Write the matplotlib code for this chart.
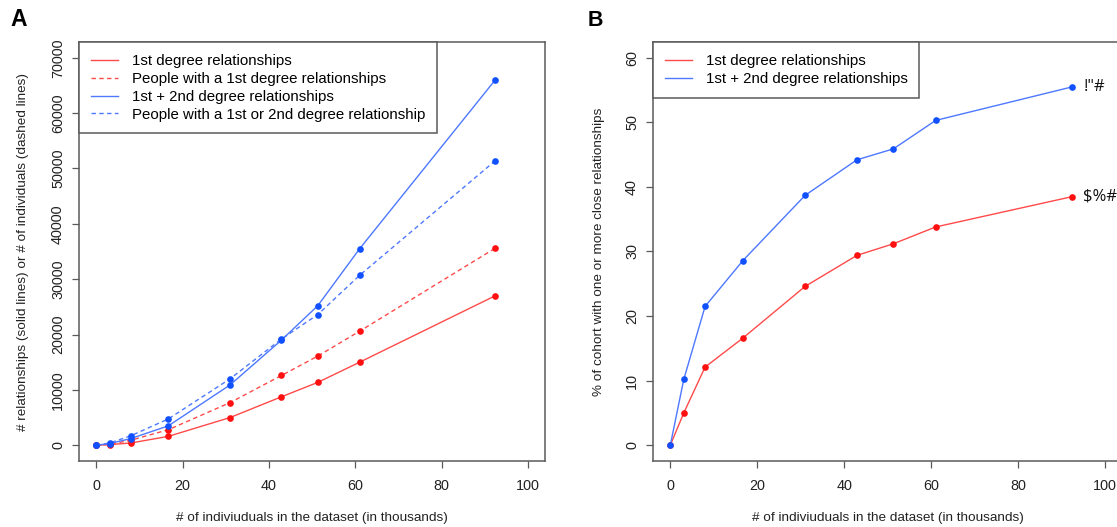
import matplotlib

matplotlib.use("Agg")

import matplotlib.pyplot as plt

plt.rcParams["font.family"] = ["Liberation Sans", "DejaVu Sans"]

# cohort size in thousands, same sampling points in both panels
n_thousands = [0.0, 3.1, 8.0, 16.7, 31.0, 42.9, 51.3, 61.0, 92.4]

# panel A: counts
rel_1st = [0, 100, 400, 1600, 5000, 8750, 11350, 15000, 27000]
people_1st = [0, 150, 900, 2800, 7700, 12600, 16100, 20600, 35600]
rel_1st_2nd = [0, 300, 1200, 3500, 10900, 19000, 25200, 35500, 66000]
people_1st_2nd = [0, 400, 1700, 4750, 12000, 19200, 23600, 30700, 51400]

# panel B: percent of cohort
pct_1st = [0.0, 5.0, 12.1, 16.6, 24.6, 29.4, 31.2, 33.8, 38.5]
pct_1st_2nd = [0.0, 10.2, 21.5, 28.6, 38.7, 44.2, 45.9, 50.3, 55.5]
end_labels = ['!"#', "$%#"]

xticks = [0, 20, 40, 60, 80, 100]
yticks_a = [0, 10000, 20000, 30000, 40000, 50000, 60000, 70000]
yticks_b = [0, 10, 20, 30, 40, 50, 60]

RED_LINE = "#ff4a4a"
RED_DOT = "#ff1010"
BLUE_LINE = "#4d78ff"
BLUE_DOT = "#1050ff"
FRAME = "#5a5a5a"
DASH = (0, (3.2, 2.4))
W, H = 1117, 527


def px_box(left, right, top, bottom):
    return [left / W, 1 - bottom / H, (right - left) / W, (bottom - top) / H]


def r_style(ax, yticks):
    for side in ["left", "right", "top", "bottom"]:
        ax.spines[side].set_color(FRAME)
        ax.spines[side].set_linewidth(1.1)
    ax.set_xticks(xticks)
    ax.set_yticks(yticks)
    ax.tick_params(direction="out", length=5, width=0.9, color=FRAME,
                   labelsize=10.4, pad=5, labelcolor="#222222")
    ax.tick_params(axis="x", pad=8)
    for lab in ax.get_yticklabels():
        lab.set_rotation(90)
        lab.set_va("center")


def r_legend(ax, handles):
    leg = ax.legend(handles=handles, loc="upper left", borderaxespad=0,
                    fancybox=False, framealpha=1, edgecolor=FRAME, fontsize=10.8,
                    handlelength=1.85, handletextpad=0.9, labelspacing=0.26,
                    borderpad=0.78)
    leg.get_frame().set_linewidth(1.1)
    return leg


fig = plt.figure(figsize=(W / 100, H / 100), dpi=100)

# ---------------- panel A ----------------
ax_a = fig.add_axes(px_box(79, 545.3, 42.3, 460.7))
series_a = [
    (rel_1st, RED_LINE, RED_DOT, "-", "1st degree relationships"),
    (people_1st, RED_LINE, RED_DOT, DASH, "People with a 1st degree relationships"),
    (rel_1st_2nd, BLUE_LINE, BLUE_DOT, "-", "1st + 2nd degree relationships"),
    (people_1st_2nd, BLUE_LINE, BLUE_DOT, DASH, "People with a 1st or 2nd degree relationship"),
]
handles = []
for ys, lc, dc, ls, lab in series_a:
    (h,) = ax_a.plot(n_thousands, ys, color=lc, linestyle=ls, linewidth=1.0, label=lab)
    ax_a.plot(n_thousands, ys, linestyle="none", marker="o", markersize=4.8,
              color=dc, markeredgewidth=0)
    handles.append(h)
ax_a.set_xlim(-4, 104)
ax_a.set_ylim(-2800, 72800)
r_style(ax_a, yticks_a)
r_legend(ax_a, handles)

# ---------------- panel B ----------------
ax_b = fig.add_axes(px_box(652.9, 1122.7, 42.3, 460.7))
(hb1,) = ax_b.plot(n_thousands, pct_1st, color=RED_LINE, linewidth=1.0,
                   label="1st degree relationships")
(hb2,) = ax_b.plot(n_thousands, pct_1st_2nd, color=BLUE_LINE, linewidth=1.0,
                   label="1st + 2nd degree relationships")
ax_b.plot(n_thousands, pct_1st, linestyle="none", marker="o", markersize=4.8,
          color=RED_DOT, markeredgewidth=0)
ax_b.plot(n_thousands, pct_1st_2nd, linestyle="none", marker="o", markersize=4.8,
          color=BLUE_DOT, markeredgewidth=0)
ax_b.set_xlim(-4, 104)
ax_b.set_ylim(-2.4, 62.4)
r_style(ax_b, yticks_b)
r_legend(ax_b, [hb1, hb2])

for ys, lab in zip([pct_1st_2nd, pct_1st], end_labels):
    ax_b.annotate(lab, (n_thousands[-1], ys[-1]), xytext=(8, 0),
                  textcoords="offset points", va="center", ha="left",
                  fontsize=12, family="Open Sans", color="#111111")

# axis titles and panel letters
for cx in [312.1, 887.8]:
    fig.text(cx / W, 1 - 518 / H, "# of indiviuduals in the dataset (in thousands)",
             ha="center", va="center", fontsize=9.7, color="#222222")
fig.text(23 / W, 1 - 252 / H,
         "# relationships (solid lines) or # of individuals (dashed lines)",
         rotation=90, ha="center", va="center", fontsize=9.7, color="#222222")
fig.text(599 / W, 1 - 252 / H, "% of cohort with one or more close relationships",
         rotation=90, ha="center", va="center", fontsize=9.7, color="#222222")
fig.text(19 / W, 1 - 20 / H, "A", ha="center", va="center", fontsize=16.5,
         fontweight="bold")
fig.text(595.5 / W, 1 - 21 / H, "B", ha="center", va="center", fontsize=15.5,
         fontweight="bold")

fig.savefig("out.png", dpi=100)
